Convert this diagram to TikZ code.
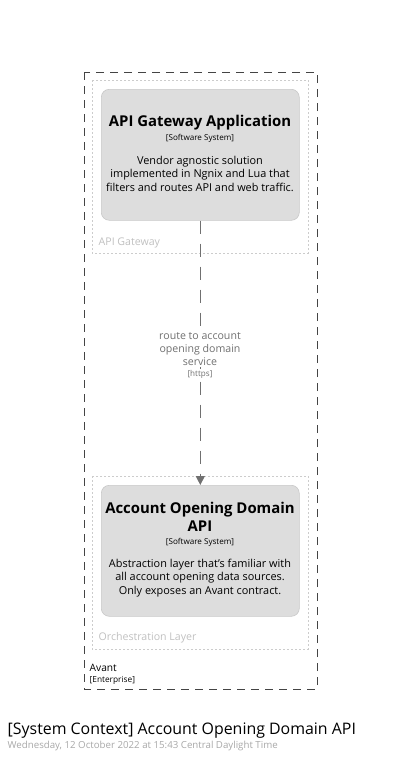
\documentclass[tikz,border=0pt]{standalone}
\usepackage{fontspec}
\setmainfont{Open Sans}
\usetikzlibrary{arrows.meta}
\definecolor{nodefill}{HTML}{DDDDDD}
\definecolor{nodeborder}{HTML}{C8C8C8}
\definecolor{edgecol}{HTML}{707070}
\definecolor{groupcol}{HTML}{CCCCCC}
\definecolor{grouptext}{HTML}{C0C0C0}
\definecolor{datetext}{HTML}{A8A8A8}
\definecolor{enterprise}{HTML}{444444}
\tikzset{
  sysbox/.style={draw=nodeborder, fill=nodefill, rounded corners=8pt, line width=0.6pt},
  groupbox/.style={draw=groupcol, dash pattern=on 2pt off 2pt, line width=0.6pt},
  entbox/.style={draw=enterprise, dash pattern=on 8pt off 6pt, line width=0.9pt},
  titletext/.style={font=\fontsize{14.9}{18}\selectfont\bfseries, text=black, align=center},
  typetext/.style={font=\fontsize{8.1}{9}\selectfont, text=black},
  desctext/.style={font=\fontsize{10.9}{13.5}\selectfont, text=black, align=center},
  edgetext/.style={font=\fontsize{10.6}{12.7}\selectfont, text=edgecol, align=center},
  edgetype/.style={font=\fontsize{8.1}{9}\selectfont, text=edgecol},
  grouplabel/.style={font=\fontsize{10.6}{12}\selectfont, text=grouptext, anchor=west},
  edge/.style={draw=edgecol, line width=1.2pt, dash pattern=on 13pt off 10pt, -{Triangle[width=9pt,length=9pt]}},
}
\begin{document}
\begin{tikzpicture}[x=1pt,y=-1pt]
\useasboundingbox (0,0) rectangle (400,761);
% enterprise boundary
\draw[entbox] (84,72) rectangle (317,689);
\node[font=\fontsize{10.2}{12}\selectfont, text=black, anchor=west, inner sep=0] (avant) at (89.5,668) {Avant};
\node[font=\fontsize{8.3}{9}\selectfont, text=black, anchor=west, inner sep=0] (ent) at (89.5,680) {[Enterprise]};
% groups
\draw[groupbox] (92,80) rectangle (308,253);
\node[grouplabel, inner sep=0] (g1) at (98.5,243) {API Gateway};
\draw[groupbox] (92,476) rectangle (308,649);
\node[grouplabel, inner sep=0] (g2) at (98.5,638) {Orchestration Layer};
% nodes
\node[sysbox, minimum width=198pt, minimum height=131pt, anchor=north west] (gw) at (101,89) {};
\node[titletext, inner sep=0] (gwt) at (200,123) {API Gateway Application};
\node[typetext, inner sep=0] (gwty) at (200,138) {[Software System]};
\node[desctext, inner sep=0] (gwd) at (200,173.5) {Vendor agnostic solution\\implemented in Ngnix and Lua that\\filters and routes API and web traffic.};
\node[sysbox, minimum width=198pt, minimum height=131pt, anchor=north west] (ao) at (101,485) {};
\node[titletext, inner sep=0] (aot) at (200,516.5) {Account Opening Domain\\API};
\node[typetext, inner sep=0] (aoty) at (200,542.5) {[Software System]};
\node[desctext, inner sep=0] (aod) at (200,578) {Abstraction layer that's familiar with\\all account opening data sources.\\Only exposes an Avant contract.};
% edge
\draw[edge] (gw.south) -- (ao.north);
\node[edgetext, inner sep=0, fill=white, inner xsep=2pt, inner ysep=2pt] (el) at (200,349) {route to account\\opening domain\\service};
\node[edgetype, inner sep=0, fill=white, inner ysep=1pt] (elt) at (200,374) {[https]};
% title
\node[font=\fontsize{15.9}{18}\selectfont, text=black, anchor=west, inner sep=0] (title) at (7.5,731) {[System Context] Account Opening Domain API};
\node[font=\fontsize{9.7}{11}\selectfont, text=datetext, anchor=west, inner sep=0] (date) at (7.5,745.5) {Wednesday, 12 October 2022 at 15:43 Central Daylight Time};
\end{tikzpicture}
\end{document}
